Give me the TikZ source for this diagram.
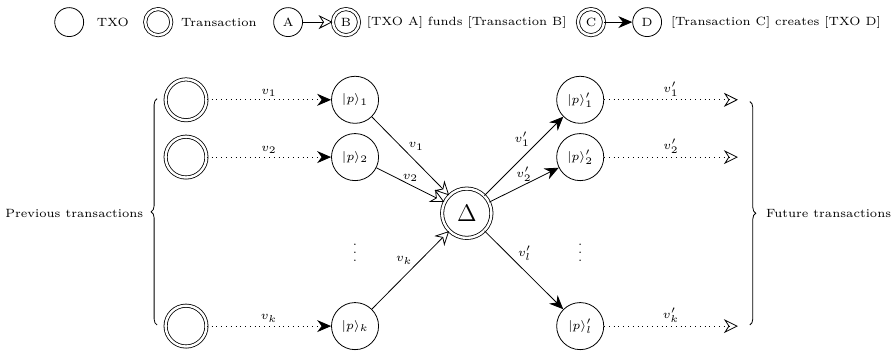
\documentclass[tikz,border=0pt]{standalone}
\usepackage{amsmath, amssymb}
\usepackage{tikz}
\usetikzlibrary{positioning}
\usetikzlibrary{arrows.meta}
\usetikzlibrary{decorations.pathreplacing}
\usetikzlibrary{calc}

\newcommand{\labelfont}{\fontsize{6}{7}\selectfont}

\tikzset{
  txo/.style={circle,draw,minimum size=0.83cm,inner sep=0pt,font=\labelfont},
  tx/.style={circle,draw,double,double distance=1.2pt,minimum size=0.72cm,inner sep=0pt},
  funds/.style={-{Stealth[open,length=7pt,width=7pt]}},
  creates/.style={-{Stealth[length=7pt,width=6pt]}},
  lbl/.style={font=\labelfont,inner sep=1.5pt},
}

\begin{document}
\begin{tikzpicture}
\useasboundingbox (0,0) rectangle (15.71,6.19);

% legend
\node[txo,minimum size=0.51cm] (ltxo) at (1.22,5.80) {};
\node[lbl] (ltxotext) at (1.99,5.80) {TXO};
\node[tx,minimum size=0.46cm] (ltx) at (2.79,5.80) {};
\node[lbl] (ltxtext) at (3.86,5.80) {Transaction};
\node[txo,minimum size=0.51cm] (la) at (5.08,5.80) {A};
\node[tx,minimum size=0.46cm,font=\labelfont] (lb) at (6.10,5.80) {B};
\draw[funds] (la) -- (lb);
\node[lbl] (lfunds) at (8.23,5.80) {[TXO A] funds [Transaction B]};
\node[tx,minimum size=0.46cm,font=\labelfont] (lc) at (10.42,5.80) {C};
\node[txo,minimum size=0.51cm] (ld) at (11.41,5.80) {D};
\draw[creates] (lc) -- (ld);
\node[lbl] (lcreates) at (13.68,5.80) {[Transaction C] creates [TXO D]};

% previous transactions
\node[tx] (prev1) at (3.28,4.43) {};
\node[tx] (prev2) at (3.28,3.42) {};
\node[tx] (prevk) at (3.28,0.44) {};

% inputs
\node[txo] (p1) at (6.26,4.43) {$|p\rangle_1$};
\node[txo] (p2) at (6.26,3.42) {$|p\rangle_2$};
\node[txo] (pk) at (6.26,0.44) {$|p\rangle_k$};
\node[lbl] (pdots) at (6.26,1.83) {$\vdots$};

% the transaction
\node[tx,minimum size=0.87cm,font=\large] (delta) at (8.23,2.43) {$\Delta$};

% outputs
\node[txo] (q1) at (10.23,4.43) {$|p\rangle'_1$};
\node[txo] (q2) at (10.23,3.42) {$|p\rangle'_2$};
\node[txo] (ql) at (10.23,0.44) {$|p\rangle'_l$};
\node[lbl] (qdots) at (10.23,1.83) {$\vdots$};

% future ends
\coordinate (f1) at (13.01,4.43);
\coordinate (f2) at (13.01,3.42);
\coordinate (fk) at (13.01,0.44);

\draw[creates,dotted] (prev1) -- node[lbl,above] {$v_1$} (p1);
\draw[creates,dotted] (prev2) -- node[lbl,above] {$v_2$} (p2);
\draw[creates,dotted] (prevk) -- node[lbl,above] {$v_k$} (pk);

\draw[funds] (p1) -- node[lbl,pos=0.45,above right=-1pt] {$v_1$} (delta);
\draw[funds] (p2) -- node[lbl,above] {$v_2$} (delta);
\draw[funds] (pk) -- node[lbl,pos=0.55,above left=-1pt] {$v_k$} (delta);

\draw[creates] (delta) -- node[lbl,pos=0.6,above left=-1pt] {$v'_1$} (q1);
\draw[creates] (delta) -- node[lbl,above] {$v'_2$} (q2);
\draw[creates] (delta) -- node[lbl,pos=0.4,above right=-1pt] {$v'_l$} (ql);

\draw[funds,dotted] (q1) -- node[lbl,above] {$v'_1$} (f1);
\draw[funds,dotted] (q2) -- node[lbl,above] {$v'_2$} (f2);
\draw[funds,dotted] (ql) -- node[lbl,above] {$v'_k$} (fk);

% braces
\coordinate (lbot) at (2.77,0.46);
\coordinate (ltop) at (2.77,4.45);
\coordinate (rtop) at (13.22,4.40);
\coordinate (rbot) at (13.22,0.46);
\draw[decorate,decoration={brace,amplitude=3pt}] (lbot) -- (ltop);
\draw[decorate,decoration={brace,amplitude=3pt}] (rtop) -- (rbot);
\node[lbl] (prevtext) at (1.31,2.43) {Previous transactions};
\node[lbl] (futtext) at (14.61,2.43) {Future transactions};
\end{tikzpicture}
\end{document}
